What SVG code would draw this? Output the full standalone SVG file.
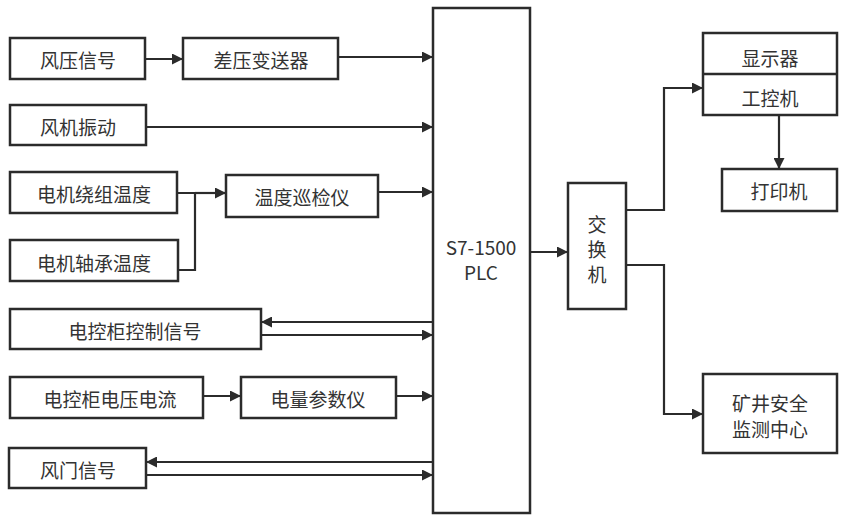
<svg xmlns="http://www.w3.org/2000/svg" width="843" height="516" viewBox="0 0 843 516">
<defs>
<marker id="ah" viewBox="0 0 10 10" refX="10" refY="5" markerWidth="11" markerHeight="11" markerUnits="userSpaceOnUse" orient="auto">
<path d="M0,0 L10,5 L0,10 z" fill="#2b2b2b"/>
</marker>
</defs>
<style>
rect{fill:#fff;stroke:#2b2b2b;stroke-width:2.5}
text{font-family:"Noto Sans CJK SC","Noto Sans",sans-serif;font-size:19px;fill:#333;text-anchor:middle;dominant-baseline:central}
.c path{fill:none;stroke:#2b2b2b;stroke-width:2.2}
.c .a{marker-end:url(#ah)}
</style>
<rect x="0" y="0" width="843" height="516" style="stroke:none"/>
<g id="n1"><rect x="10" y="38" width="135" height="41"/><text x="78" y="59">风压信号</text></g>
<g id="n2"><rect x="183" y="38" width="155" height="41"/><text x="261" y="59">差压变送器</text></g>
<g id="n3"><rect x="10" y="105" width="136" height="40"/><text x="78" y="126">风机振动</text></g>
<g id="n4"><rect x="10" y="172" width="167" height="41"/><text x="94" y="193">电机绕组温度</text></g>
<g id="n5"><rect x="226" y="175" width="152" height="42"/><text x="302" y="196">温度巡检仪</text></g>
<g id="n6"><rect x="10" y="240" width="168" height="41"/><text x="94" y="262">电机轴承温度</text></g>
<g id="n7"><rect x="10" y="309" width="251" height="40"/><text x="135" y="330">电控柜控制信号</text></g>
<g id="n8"><rect x="10" y="377" width="193" height="41"/><text x="110" y="398">电控柜电压电流</text></g>
<g id="n9"><rect x="241" y="377" width="155" height="41"/><text x="318" y="398">电量参数仪</text></g>
<g id="n10"><rect x="9" y="448" width="137" height="40"/><text x="78" y="469">风门信号</text></g>
<g id="plc"><rect x="433" y="8" width="97" height="505"/><text x="481" y="246">S7-1500</text><text x="481" y="271">PLC</text></g>
<g id="sw"><rect x="568" y="183" width="58" height="126"/><text x="597" y="223">交</text><text x="597" y="248">换</text><text x="597" y="273">机</text></g>
<g id="ipc"><rect x="703" y="33" width="134" height="82"/><path d="M703,74 H837" stroke="#2b2b2b" stroke-width="2.5"/><text x="770" y="57">显示器</text><text x="770" y="97">工控机</text></g>
<g id="prn"><rect x="722" y="169" width="115" height="42"/><text x="779" y="190">打印机</text></g>
<g id="mine"><rect x="703" y="374" width="134" height="79"/><text x="770" y="402">矿井安全</text><text x="770" y="428">监测中心</text></g>
<g class="c" id="connectors">
<path class="a" d="M145,59 H183"/>
<path class="a" d="M338,57 H433"/>
<path class="a" d="M146,127 H433"/>
<path d="M177,193 H195 V270 H178"/>
<path class="a" d="M195,193 H226"/>
<path class="a" d="M378,192 H433"/>
<path class="a" d="M433,322 H261"/>
<path class="a" d="M261,335 H433"/>
<path class="a" d="M203,396 H241"/>
<path class="a" d="M396,396 H433"/>
<path class="a" d="M433,462 H146"/>
<path class="a" d="M146,475 H433"/>
<path class="a" d="M530,252 H568"/>
<path class="a" d="M626,210 H664 V88 H703"/>
<path class="a" d="M626,265 H664 V414 H703"/>
<path class="a" d="M779,115 V169"/>
</g>
</svg>
